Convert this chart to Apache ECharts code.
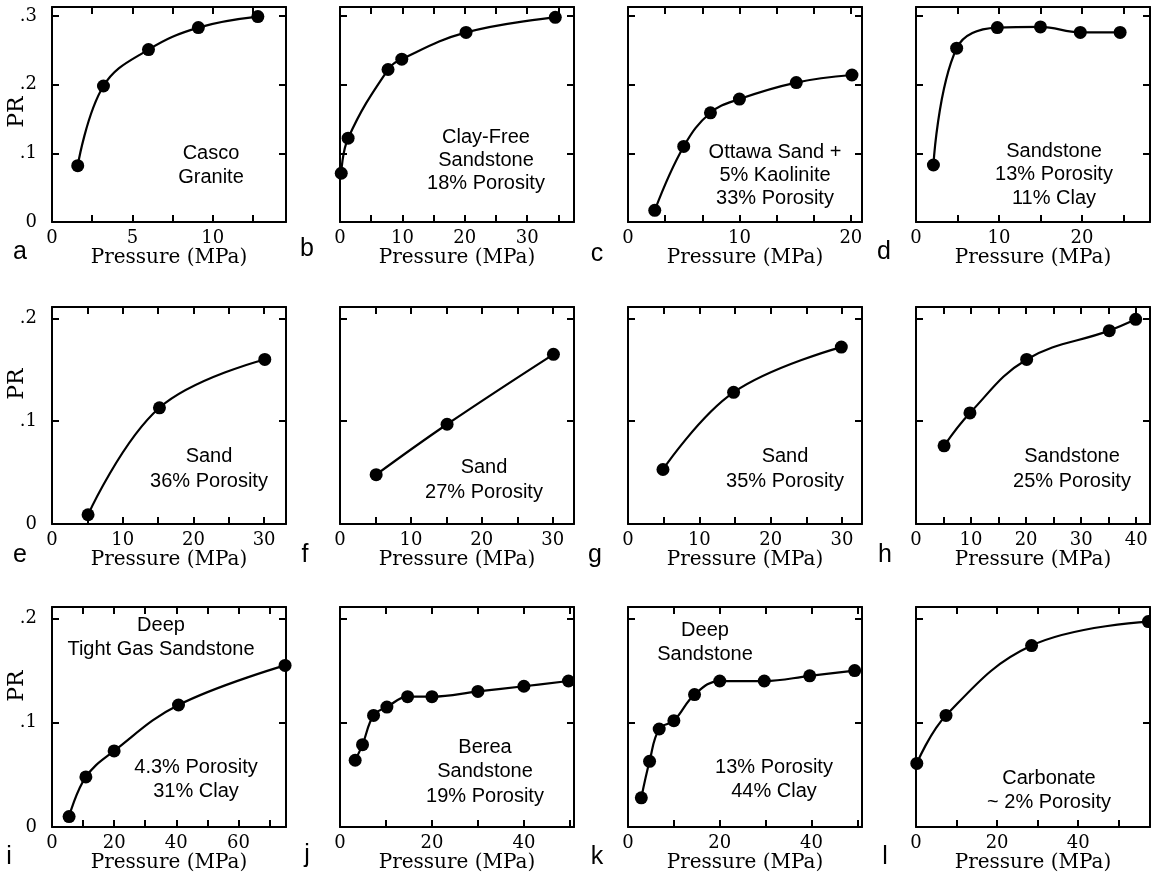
<!DOCTYPE html>
<html><head><meta charset="utf-8">
<script src="https://cdn.jsdelivr.net/npm/echarts@6/dist/echarts.min.js"></script>
<style>html,body{margin:0;padding:0;background:#fff}#c{width:1151px;height:877px}</style>
</head><body><div id="c"></div>
<script>
// ---- data ----
const pressure_a = [1.6, 3.2, 6.0, 9.1, 12.8];
const pr_a       = [0.082, 0.198, 0.251, 0.283, 0.299];
const pressure_b = [0.2, 1.3, 7.7, 9.9, 20.2, 34.5];
const pr_b       = [0.071, 0.122, 0.222, 0.237, 0.276, 0.298];
const pressure_c = [2.4, 5.0, 7.4, 10.0, 15.1, 20.1];
const pr_c       = [0.017, 0.110, 0.159, 0.179, 0.203, 0.214];
const pressure_d = [2.1, 4.9, 9.8, 15.0, 19.8, 24.6];
const pr_d       = [0.083, 0.253, 0.283, 0.284, 0.276, 0.276];
const pressure_e = [5.1, 15.2, 30.1];
const pr_e       = [0.009, 0.113, 0.160];
const pressure_f = [5.1, 15.1, 30.1];
const pr_f       = [0.048, 0.097, 0.165];
const pressure_g = [4.9, 14.8, 29.9];
const pr_g       = [0.053, 0.128, 0.172];
const pressure_h = [5.1, 9.8, 20.1, 35.1, 39.9];
const pr_h       = [0.076, 0.108, 0.160, 0.188, 0.199];
const pressure_i = [5.5, 10.9, 20.0, 40.7, 75.0];
const pr_i       = [0.010, 0.048, 0.073, 0.117, 0.155];
const pressure_j = [3.3, 4.9, 7.3, 10.2, 14.7, 20.0, 30.0, 40.0, 49.7];
const pr_j       = [0.064, 0.079, 0.107, 0.115, 0.125, 0.125, 0.130, 0.135, 0.140];
const pressure_k = [2.9, 4.7, 6.8, 10.0, 14.5, 20.0, 29.7, 39.6, 49.4];
const pr_k       = [0.028, 0.063, 0.094, 0.102, 0.127, 0.140, 0.140, 0.145, 0.150];
const pressure_l = [0.2, 7.4, 28.5, 57.3];
const pr_l       = [0.061, 0.107, 0.174, 0.197];

// tick labels
const xTicks_a = [0, 5, 10];
const xTicks_b = [0, 10, 20, 30];
const xTicks_c = [0, 10, 20];
const xTicks_d = [0, 10, 20];
const xTicks_efg = [0, 10, 20, 30];
const xTicks_h = [0, 10, 20, 30, 40];
const xTicks_i = [0, 20, 40, 60];
const xTicks_jkl = [0, 20, 40];
const yTicks_row1 = ['0', '.1', '.2', '.3'];
const yTicks_row23 = ['0', '.1', '.2'];

// panel letters and annotations
const letters = ['a','b','c','d','e','f','g','h','i','j','k','l'];
const notes_a = ['Casco', 'Granite'];
const notes_b = ['Clay-Free', 'Sandstone', '18% Porosity'];
const notes_c = ['Ottawa Sand +', '5% Kaolinite', '33% Porosity'];
const notes_d = ['Sandstone', '13% Porosity', '11% Clay'];
const notes_e = ['Sand', '36% Porosity'];
const notes_f = ['Sand', '27% Porosity'];
const notes_g = ['Sand', '35% Porosity'];
const notes_h = ['Sandstone', '25% Porosity'];
const notes_i_top = ['Deep', 'Tight Gas Sandstone'];
const notes_i = ['4.3% Porosity', '31% Clay'];
const notes_j = ['Berea', 'Sandstone', '19% Porosity'];
const notes_k_top = ['Deep', 'Sandstone'];
const notes_k = ['13% Porosity', '44% Clay'];
const notes_l = ['Carbonate', '~ 2% Porosity'];
const xTitle = 'Pressure (MPa)';
const yTitle = 'PR';

// ---- layout ----
const colLeft = [52, 340, 628, 916];
const colWidth = 234;
const rowTop = [7, 307, 607];
const rowHeight = [215, 217, 220];
const rowYMax = [0.313, 0.211, 0.211];
const yTitlePos = [[17, 112], [17, 384], [17, 686]];

const panels = [
  {x: pressure_a, y: pr_a, xMax: 14.55, step: 2.5, xl: xTicks_a},
  {x: pressure_b, y: pr_b, xMax: 37.5, step: 5, xl: xTicks_b},
  {x: pressure_c, y: pr_c, xMax: 21.0, step: 10 / 3, xl: xTicks_c},
  {x: pressure_d, y: pr_d, xMax: 28.2, step: 5, xl: xTicks_d},
  {x: pressure_e, y: pr_e, xMax: 33.1, step: 5, xl: xTicks_efg},
  {x: pressure_f, y: pr_f, xMax: 33.0, step: 5, xl: xTicks_efg},
  {x: pressure_g, y: pr_g, xMax: 32.8, step: 5, xl: xTicks_efg},
  {x: pressure_h, y: pr_h, xMax: 42.5, step: 5, xl: xTicks_h},
  {x: pressure_i, y: pr_i, xMax: 75.3, step: 10, xl: xTicks_i},
  {x: pressure_j, y: pr_j, xMax: 50.9, step: 10, xl: xTicks_jkl},
  {x: pressure_k, y: pr_k, xMax: 51.0, step: 10, xl: xTicks_jkl},
  {x: pressure_l, y: pr_l, xMax: 57.7, step: 10, xl: xTicks_jkl}
];

// annotation blocks: [lines, centerX, firstLineCenterY, lineGap]
const noteBlocks = [
  [notes_a, 211, 153, 24],
  [notes_b, 486, 137, 23],
  [notes_c, 775, 152, 23],
  [notes_d, 1054, 151, 23.5],
  [notes_e, 209, 456, 25],
  [notes_f, 484, 467, 25],
  [notes_g, 785, 456, 25],
  [notes_h, 1072, 456, 25],
  [notes_i_top, 161, 625, 24],
  [notes_i, 196, 767, 24],
  [notes_j, 485, 747, 24.5],
  [notes_k_top, 705, 630, 24],
  [notes_k, 774, 767, 24],
  [notes_l, 1049, 778, 24]
];
const letterPos = [
  [20, 252], [307, 249], [597, 254], [884, 252],
  [20, 555], [305, 555], [595, 555], [885, 555],
  [9, 857], [307, 855], [597, 857], [885, 857]
];

const SERIF = 'DejaVu Serif';
const SANS = 'Liberation Sans';

const grids = [], xAxes = [], yAxes = [], series = [], graphics = [];
panels.forEach((p, i) => {
  const r = Math.floor(i / 4), c = i % 4;
  grids.push({left: colLeft[c], top: rowTop[r], width: colWidth, height: rowHeight[r],
    containLabel: false, outerBoundsMode: 'none'});
  const lineStyle = {color: '#000', width: 2};
  const tick = {show: true, inside: true, length: 7, lineStyle: {color: '#000', width: 2}};
  const xl = p.xl;
  xAxes.push({
    type: 'value', gridIndex: i, position: 'bottom', min: 0, max: p.xMax, interval: p.step,
    axisLine: {show: true, onZero: false, lineStyle}, axisTick: tick, splitLine: {show: false},
    axisLabel: {show: true, margin: 7, color: '#000', fontFamily: SERIF, fontSize: 18,
      showMaxLabel: false,
      formatter: v => { const m = xl.find(t => Math.abs(t - v) < 1e-4); return m === undefined ? '' : String(m); }},
    name: xTitle, nameLocation: 'middle', nameGap: 26, nameMoveOverlap: false,
    nameTextStyle: {color: '#000', fontFamily: SERIF, fontSize: 20}
  });
  xAxes.push({
    type: 'value', gridIndex: i, position: 'top', min: 0, max: p.xMax, interval: p.step,
    axisLine: {show: true, onZero: false, lineStyle}, axisTick: tick, splitLine: {show: false},
    axisLabel: {show: false}
  });
  const yl = r === 0 ? yTicks_row1 : yTicks_row23;
  yAxes.push({
    type: 'value', gridIndex: i, position: 'left', min: 0, max: rowYMax[r], interval: 0.1,
    axisLine: {show: true, onZero: false, lineStyle}, axisTick: tick, splitLine: {show: false},
    axisLabel: {show: c === 0, margin: 15, color: '#000', fontFamily: SERIF, fontSize: 18,
      showMaxLabel: false,
      formatter: v => { const k = Math.round(v * 10); return (Math.abs(v * 10 - k) < 1e-6 && k < yl.length) ? yl[k] : ''; }}
  });
  yAxes.push({
    type: 'value', gridIndex: i, position: 'right', min: 0, max: rowYMax[r], interval: 0.1,
    axisLine: {show: true, onZero: false, lineStyle}, axisTick: tick, splitLine: {show: false},
    axisLabel: {show: false}
  });
  series.push({
    type: 'line', xAxisIndex: 2 * i, yAxisIndex: 2 * i,
    data: p.x.map((xv, k) => [xv, p.y[k]]),
    smooth: 0.4,
    symbol: 'circle', symbolSize: 13, showSymbol: true,
    lineStyle: {color: '#000', width: 2.2},
    itemStyle: {color: '#000'},
    silent: true, animation: false, clip: false
  });
});

yTitlePos.forEach(([x, y]) => {
  graphics.push({type: 'text', x, y, rotation: Math.PI / 2, silent: true,
    style: {text: yTitle, fill: '#000', font: '22px "' + SERIF + '"', textAlign: 'center', textVerticalAlign: 'middle'}});
});
noteBlocks.forEach(([lines, cx, cy, gap]) => {
  lines.forEach((t, k) => {
    graphics.push({type: 'text', x: cx, y: cy + k * gap, silent: true,
      style: {text: t, fill: '#000', font: '20px "' + SANS + '"', textAlign: 'center', textVerticalAlign: 'middle'}});
  });
});
letters.forEach((t, i) => {
  graphics.push({type: 'text', x: letterPos[i][0], y: letterPos[i][1], silent: true,
    style: {text: t, fill: '#000', font: '25px "' + SANS + '"', textAlign: 'center', textVerticalAlign: 'middle'}});
});

const chart = echarts.init(document.getElementById('c'), null, {renderer: 'canvas'});
chart.setOption({
  animation: false,
  backgroundColor: '#fff',
  grid: grids, xAxis: xAxes, yAxis: yAxes, series: series, graphic: graphics
});
</script></body></html>
